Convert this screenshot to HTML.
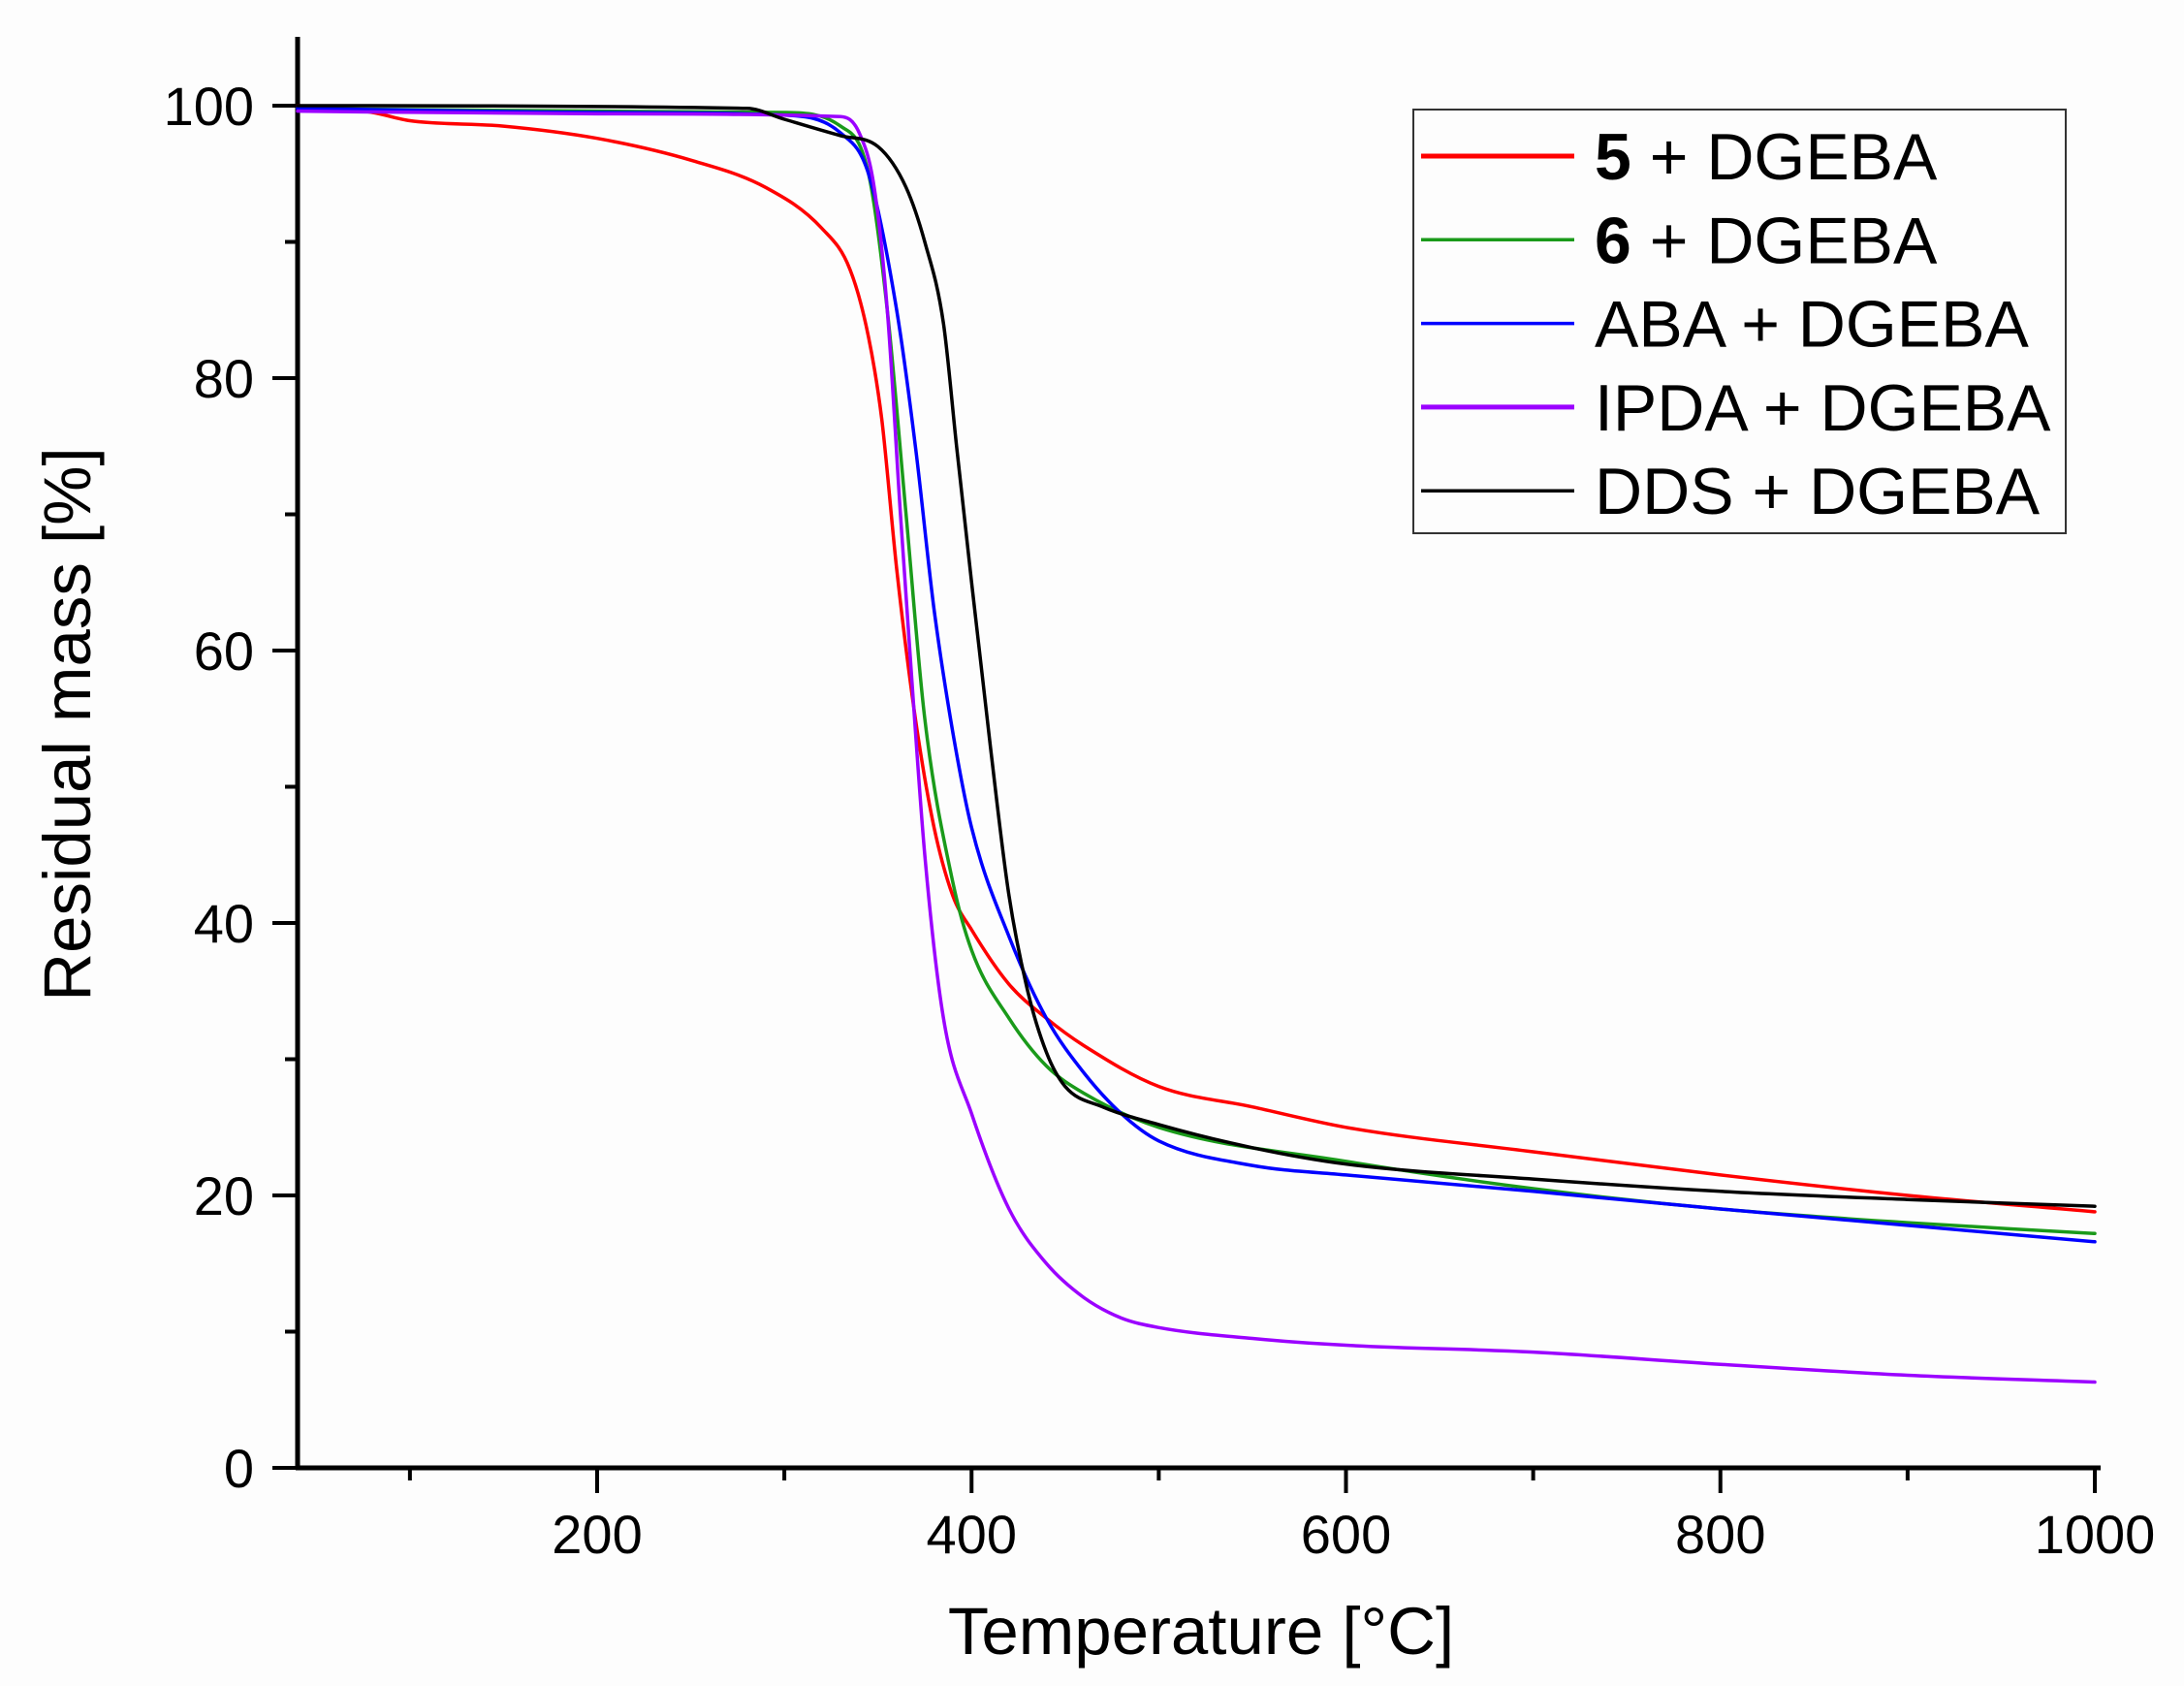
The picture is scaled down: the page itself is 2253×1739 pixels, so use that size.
<!DOCTYPE html>
<html><head><meta charset="utf-8"><style>
html,body{margin:0;padding:0;background:#fff;}
svg{display:block;font-family:"Liberation Sans",sans-serif;}
</style></head><body>
<svg id="chart" width="2253" height="1739" viewBox="0 0 2253 1739" xmlns="http://www.w3.org/2000/svg">
<rect x="0" y="0" width="2253" height="1739" fill="#fdfdfd"/>
<g id="axes"></g>
<g id="series"></g>
<g id="legend">
<rect x="1458" y="113" width="673" height="437" fill="#fdfdfd" stroke="#333" stroke-width="2"/>
</g>
<text x="75" y="747" font-size="69" text-anchor="middle" transform="rotate(-90 75 747)" dominant-baseline="middle">Residual mass [%]</text>
<text x="1239" y="1706" font-size="69" text-anchor="middle">Temperature [°C]</text>
</svg>
<script>
const xTicks=[200,400,600,800,1000];
const xMinor=[100,300,500,700,900];
const yTicks=[0,20,40,60,80,100];
const yMinor=[10,30,50,70,90];
const seriesNames=["5 + DGEBA","6 + DGEBA","ABA + DGEBA","IPDA + DGEBA","DDS + DGEBA"];
const seriesColors=["#ff0000","#1a9a1a","#0000ff","#9b00ff","#000000"];
const redT=[40,60,80,100,150,200,250,290,320,335,345,352,360,370,380,390,400,420,440,460,500,550,600,700,800,900,1000];
const redV=[100,99.8,99.5,98.9,98.5,97.6,96,94,91,88,83,77,66,55,47,42,39.5,35.5,33,31,28,26.5,25,23.2,21.5,20,18.8];
const greenT=[40,200,300,330,345,355,365,375,390,400,420,440,460,500,600,700,800,900,1000];
const greenV=[99.8,99.6,99.5,98.5,95,85,70,55,43,38,33,29.5,27.5,25,22.5,20.5,19,18,17.2];
const blueT=[40,200,300,330,345,360,370,380,390,400,420,440,460,480,500,550,600,700,800,900,1000];
const blueV=[99.8,99.5,99.3,98,95,85,75,63,54,47,39,33,29,26,24,22.2,21.5,20.3,19,17.8,16.6];
const purpleT=[40,200,330,340,348,355,362,368,375,385,400,420,440,460,480,500,550,600,700,800,900,1000];
const purpleV=[99.6,99.4,99.2,98,94,85,70,58,45,33,26,19,15,12.5,11,10.3,9.5,9,8.5,7.6,6.8,6.3];
const blackT=[40,280,300,330,350,365,375,385,392,400,410,420,430,440,450,470,500,550,600,700,800,900,1000];
const blackV=[100,99.8,99,97.8,97,94,90,84,75,65,53,42,35,30.5,28,26.5,25.2,23.5,22.3,21.2,20.3,19.7,19.2];
const seriesT=[redT,greenT,blueT,purpleT,blackT];
const seriesV=[redV,greenV,blueV,purpleV,blackV];

const X0=307,X1=2161,XMIN=40,XMAX=1000;
const Y0=1514,Y1=109,YMIN=0,YMAX=100;
function sx(t){return X0+(t-XMIN)/(XMAX-XMIN)*(X1-X0);}
function sy(v){return Y0-(v-YMIN)/(YMAX-YMIN)*(Y0-Y1);}
const NS="http://www.w3.org/2000/svg";
function mk(tag,attrs,parent){const e=document.createElementNS(NS,tag);for(const k in attrs)e.setAttribute(k,attrs[k]);parent.appendChild(e);return e;}
function monoPath(xs,ys){
  const n=xs.length,d=[],m=[];
  for(let i=0;i<n-1;i++)d.push((ys[i+1]-ys[i])/(xs[i+1]-xs[i]));
  m[0]=d[0];m[n-1]=d[n-2];
  for(let i=1;i<n-1;i++){m[i]=(d[i-1]*d[i]<=0)?0:(d[i-1]+d[i])/2;}
  for(let i=0;i<n-1;i++){if(d[i]===0){m[i]=0;m[i+1]=0;continue;}
    const a=m[i]/d[i],b=m[i+1]/d[i],s=a*a+b*b;if(s>9){const t=3/Math.sqrt(s);m[i]=t*a*d[i];m[i+1]=t*b*d[i];}}
  let p='M'+xs[0].toFixed(1)+','+ys[0].toFixed(1);
  for(let i=0;i<n-1;i++){const h=(xs[i+1]-xs[i])/3;
    p+=' C'+(xs[i]+h).toFixed(1)+','+(ys[i]+m[i]*h).toFixed(1)+' '+(xs[i+1]-h).toFixed(1)+','+(ys[i+1]-m[i+1]*h).toFixed(1)+' '+xs[i+1].toFixed(1)+','+ys[i+1].toFixed(1);}
  return p;
}
const axes=document.getElementById('axes');
let e;
e=mk('line',{x1:X0,y1:38,x2:X0,y2:Y0+2,stroke:'#000','stroke-width':5},axes);


e=mk('line',{x1:X0-2,y1:Y0,x2:X1+6,y2:Y0,stroke:'#000','stroke-width':5},axes);


xTicks.forEach(t=>{
  const x=sx(t);
  let l=mk('line',{x1:x,y1:Y0,x2:x,y2:Y0+26,stroke:'#000','stroke-width':4},axes);
  
  
  let tx=mk('text',{x:x,y:1602,'font-size':56,'text-anchor':'middle'},axes);tx.textContent=t;
  
  
});
xMinor.forEach(t=>{
  const x=sx(t);
  let l=mk('line',{x1:x,y1:Y0,x2:x,y2:Y0+13,stroke:'#000','stroke-width':4},axes);
  
  
});
yTicks.forEach(v=>{
  const y=sy(v);
  let l=mk('line',{x1:X0-26,y1:y,x2:X0,y2:y,stroke:'#000','stroke-width':4},axes);
  
  
  let tx=mk('text',{x:262,y:y+20,'font-size':56,'text-anchor':'end'},axes);tx.textContent=v;
  
  
});
yMinor.forEach(v=>{
  const y=sy(v);
  let l=mk('line',{x1:X0-13,y1:y,x2:X0,y2:y,stroke:'#000','stroke-width':4},axes);
  
  
});
const sg=document.getElementById('series');
[0,1,2,3,4].forEach(i=>{
  const xs=seriesT[i].map(sx),ys=seriesV[i].map(sy);
  const p=mk('path',{d:monoPath(xs,ys),fill:'none',stroke:seriesColors[i],'stroke-width':3.5,'stroke-linejoin':'round','stroke-linecap':'round'},sg);
  
  
});
const lg=document.getElementById('legend');
seriesNames.forEach((n,i)=>{
  const y=161+i*86.3;
  const l=mk('line',{x1:1466,y1:y,x2:1624,y2:y,stroke:seriesColors[i],'stroke-width':i==0||i==3?5:3.5},lg);
  
  
  const t=mk('text',{x:1645,y:y+24,'font-size':68},lg);
  
  
  if(i<2){
    const b=mk('tspan',{'font-weight':'bold'},t);b.textContent=n.split(' ')[0];
    const r=mk('tspan',{},t);r.textContent=n.slice(1);
  } else t.textContent=n;
});
</script>
</body></html>
